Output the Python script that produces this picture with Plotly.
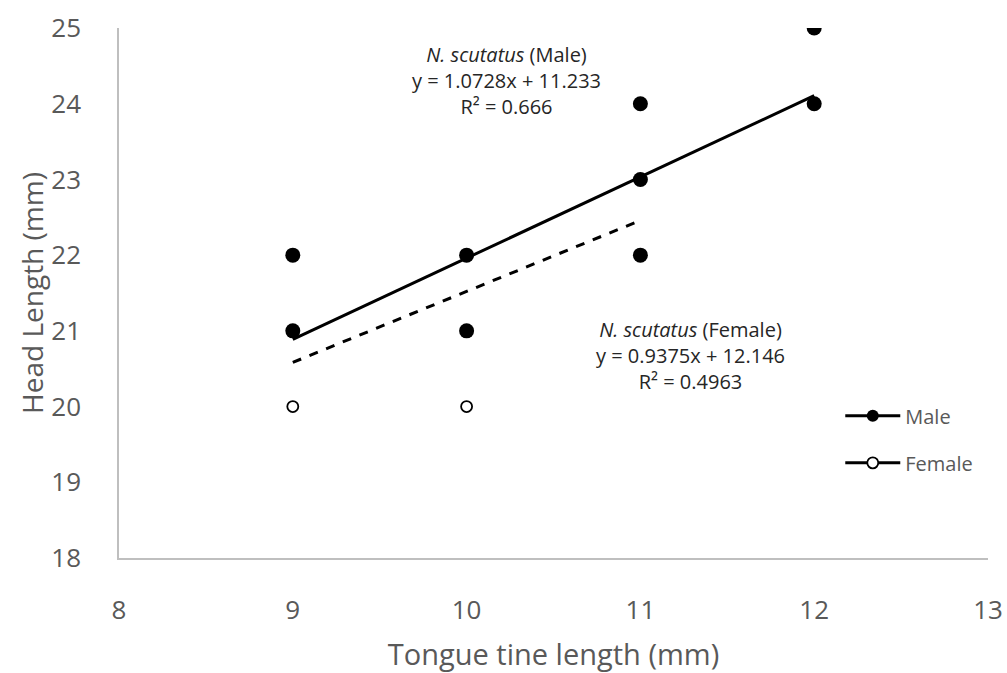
import plotly.graph_objects as go

# Data
male_x = [9, 9, 10, 10, 11, 11, 11, 12, 12]
male_y = [22, 21, 22, 21, 24, 23, 22, 25, 24]
female_x = [9, 10]
female_y = [20, 20]

male_slope, male_int, male_r2 = 1.0728, 11.233, "0.666"
female_slope, female_int, female_r2 = 0.9375, 12.146, "0.4963"
male_fit_range = [9, 12]
female_fit_range = [9, 11]

x_ticks = [8, 9, 10, 11, 12, 13]
y_ticks = [18, 19, 20, 21, 22, 23, 24, 25]

FONT = "Open Sans"
GRAY = "#595959"

fig = go.Figure()

# trend lines
fig.add_trace(go.Scatter(
    x=male_fit_range, y=[male_slope * v + male_int for v in male_fit_range],
    mode="lines", line=dict(color="black", width=3), showlegend=False, hoverinfo="skip"))
fig.add_trace(go.Scatter(
    x=female_fit_range, y=[female_slope * v + female_int for v in female_fit_range],
    mode="lines", line=dict(color="black", width=3, dash="dash"), showlegend=False, hoverinfo="skip"))

# points
fig.add_trace(go.Scatter(
    x=female_x, y=female_y, mode="markers", showlegend=False,
    marker=dict(symbol="circle", size=11, color="white", line=dict(color="black", width=1.8))))
fig.add_trace(go.Scatter(
    x=male_x, y=male_y, mode="markers", showlegend=False,
    marker=dict(symbol="circle", size=15, color="black")))

# legend entries
fig.add_trace(go.Scatter(
    x=[None], y=[None], mode="lines+markers", name="Male", legendgroup="m",
    line=dict(color="black", width=3),
    marker=dict(symbol="circle", size=12, color="black")))
fig.add_trace(go.Scatter(
    x=[None], y=[None], mode="lines+markers", name="Female", legendgroup="f",
    line=dict(color="black", width=3),
    marker=dict(symbol="circle", size=11, color="white", line=dict(color="black", width=1.8))))

fig.add_annotation(
    x=10.23, y=24.31, xref="x", yref="y", showarrow=False, align="center",
    text=f"<i>N. scutatus</i> (Male)<br>y = {male_slope}x + {male_int}<br>R² = {male_r2}",
    font=dict(family=FONT, size=20, color="#262626"))
fig.add_annotation(
    x=11.29, y=20.67, xref="x", yref="y", showarrow=False, align="center",
    text=f"<i>N. scutatus</i> (Female)<br>y = {female_slope}x + {female_int}<br>R² = {female_r2}",
    font=dict(family=FONT, size=20, color="#262626"))

axis_common = dict(
    showgrid=False, zeroline=False, showline=True, linecolor="#BFBFBF", linewidth=1.5,
    ticks="", tickfont=dict(family=FONT, size=26, color=GRAY), automargin=False,
    ticklabeloverflow="allow",
)
fig.update_xaxes(range=[8, 13], tickvals=x_ticks, ticklabelstandoff=28, **axis_common,
                 title=dict(text="Tongue tine length (mm)", font=dict(family=FONT, size=29, color=GRAY), standoff=20))
fig.update_yaxes(range=[18, 25], tickvals=y_ticks, ticklabelstandoff=31, **axis_common,
                 title=dict(text="Head Length (mm)", font=dict(family=FONT, size=28, color=GRAY), standoff=0))

fig.update_layout(
    width=1007, height=673,
    margin=dict(l=119, r=19, t=28, b=115),
    plot_bgcolor="white", paper_bgcolor="white",
    legend=dict(x=0.83, y=0.305, xanchor="left", yanchor="top",
                font=dict(family=FONT, size=20, color=GRAY),
                itemwidth=55, traceorder="grouped", tracegroupgap=18,
                bgcolor="rgba(0,0,0,0)"),
    font=dict(family=FONT),
)

fig.write_html("out.html",
               config={"displayModeBar": False},
               post_script="document.body.style.margin='0';document.body.style.overflow='hidden';")
